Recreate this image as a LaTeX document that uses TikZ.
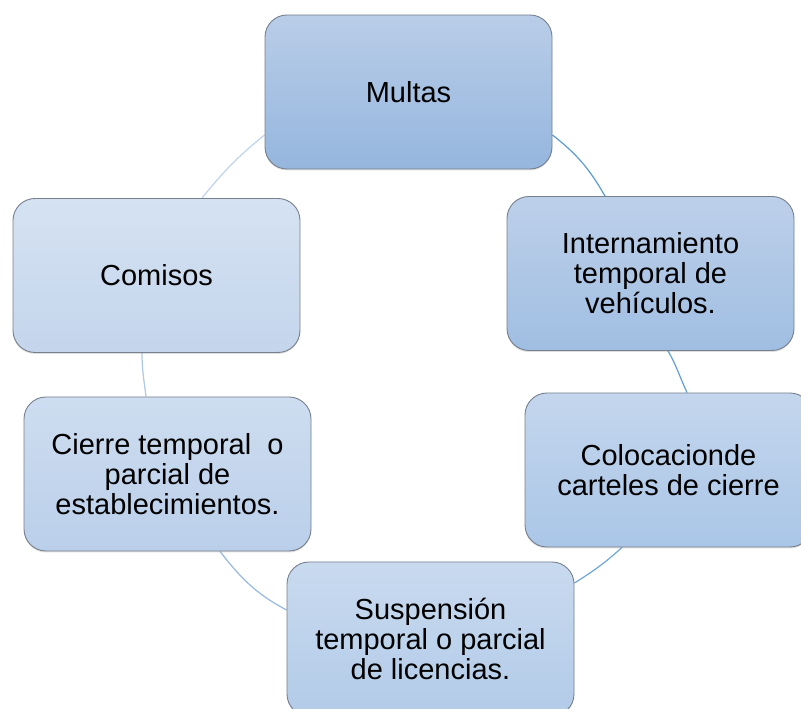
\documentclass[tikz,border=0pt]{standalone}
\usepackage{fontspec}
\setmainfont{Liberation Sans}
\usetikzlibrary{backgrounds,shadows}
\definecolor{bordergray}{RGB}{118,128,142}
\definecolor{mtop}{RGB}{185,205,232}\definecolor{mbot}{RGB}{149,182,222}
\definecolor{itop}{RGB}{189,208,234}\definecolor{ibot}{RGB}{160,190,226}
\definecolor{ctop}{RGB}{196,214,237}\definecolor{cbot}{RGB}{170,198,231}
\definecolor{stop}{RGB}{201,218,239}\definecolor{sbot}{RGB}{178,203,232}
\definecolor{xtop}{RGB}{206,221,240}\definecolor{xbot}{RGB}{186,207,234}
\definecolor{ktop}{RGB}{213,226,242}\definecolor{kbot}{RGB}{196,213,236}
\definecolor{arcA}{RGB}{91,155,213}
\definecolor{arcB}{RGB}{96,158,214}
\definecolor{arcC}{RGB}{110,165,218}
\definecolor{arcD}{RGB}{150,185,225}
\definecolor{arcE}{RGB}{172,199,232}
\definecolor{arcF}{RGB}{192,211,237}
\tikzset{
  box/.style={draw=bordergray, line width=0.9pt, rounded corners=22pt,
    minimum width=287pt, minimum height=154pt, inner sep=0pt, align=center,
    font=\fontsize{29}{30}\selectfont,
    drop shadow={shadow xshift=0pt, shadow yshift=-1.5pt, opacity=0.25}},
  arcline/.style={line width=1.2pt}
}
\begin{document}
\begin{tikzpicture}[x=1pt,y=1pt]
\useasboundingbox (0,0) rectangle (801,709);
\node[box, top color=mtop, bottom color=mbot] (multas) at (408.5,617) {Multas};
\node[box, top color=itop, bottom color=ibot] (intern) at (650.5,435.5) {Internamiento\\temporal de\\vehículos.};
\node[box, top color=ctop, bottom color=cbot] (coloc) at (668.5,239) {Colocacionde\\carteles de cierre};
\node[box, top color=stop, bottom color=sbot] (susp) at (430.5,70) {Suspensión\\temporal o parcial\\de licencias.};
\node[box, top color=xtop, bottom color=xbot] (cierre) at (167.5,235) {Cierre temporal\ \ o\\parcial de\\establecimientos.};
\node[box, top color=ktop, bottom color=kbot] (comisos) at (156.5,433.5) {Comisos};
\begin{scope}[on background layer]
\draw[arcline, arcA] ([yshift=-43pt]multas.east) to[out=-38, in=120] ([xshift=-45.5pt]intern.north);
\draw[arcline, arcB] ([xshift=17.5pt]intern.south) to[out=-60, in=115] ([xshift=18.5pt]coloc.north);
\draw[arcline, arcC] ([xshift=-46.5pt]coloc.south) to[out=222, in=32] ([yshift=56pt]susp.east);
\draw[arcline, arcD] ([yshift=29pt]susp.west) to[out=152, in=-52] ([xshift=52.5pt]cierre.south);
\draw[arcline, arcE] ([xshift=-21.5pt]cierre.north) to[out=97, in=-90] ([xshift=-14.5pt]comisos.south);
\draw[arcline, arcF] ([xshift=45.5pt]comisos.north) to[out=51, in=-141] ([yshift=-43pt]multas.west);
\end{scope}
\end{tikzpicture}
\end{document}
